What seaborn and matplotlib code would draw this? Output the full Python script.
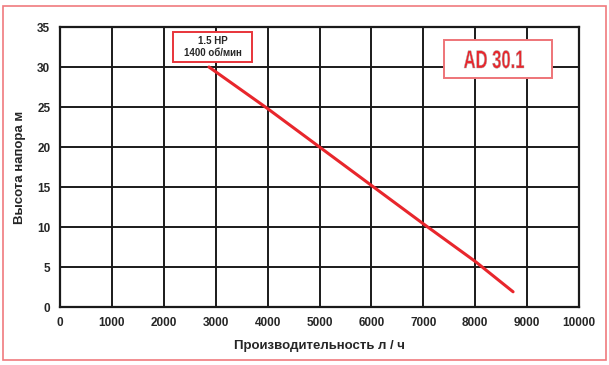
import matplotlib
matplotlib.use('Agg')
import matplotlib.pyplot as plt
import seaborn as sns
import pandas as pd
from matplotlib.patches import Rectangle, PathPatch
from matplotlib.textpath import TextPath
from matplotlib.font_manager import FontProperties
from matplotlib.transforms import Affine2D, IdentityTransform

# curve values
flow = [2870, 4000, 5000, 6000, 7000, 8000, 8730]
head = [30.0, 24.8, 20.0, 15.2, 10.4, 5.7, 1.9]
x_ticks = [0, 1000, 2000, 3000, 4000, 5000, 6000, 7000, 8000, 9000, 10000]
y_ticks = [0, 5, 10, 15, 20, 25, 30, 35]
x_label = 'Производительность л / ч'
y_label = 'Высота напора м'
motor_text = '1.5 HP\n1400 об/мин'
model_text = 'AD 30.1'

sns.set_style('white')
plt.rcParams['font.family'] = ['Liberation Sans', 'DejaVu Sans']

df = pd.DataFrame({'flow': flow, 'head': head})

fig = plt.figure(figsize=(6.09, 3.65), dpi=100)
ax = fig.add_axes([60 / 609, 1 - 307 / 365, 519 / 609, 280 / 365])

sns.lineplot(data=df, x='flow', y='head', ax=ax, color='#e8262c', linewidth=2.2, zorder=5)

ax.set_xlim(0, 10000)
ax.set_ylim(0, 35)
ax.set_xticks(x_ticks)
ax.set_yticks(y_ticks)
ax.set_xticklabels([str(t) for t in x_ticks], fontsize=8.5, fontweight='bold')
ax.set_yticklabels([str(t) for t in y_ticks], fontsize=8.5, fontweight='bold')
ax.grid(True, color='#1a1a1a', linewidth=1.4)
for s in ax.spines.values():
    s.set_color('#1a1a1a')
    s.set_linewidth(1.6)
ax.tick_params(axis='both', length=4, width=1, color='#1a1a1a', pad=3)
ax.set_xlabel(x_label, fontsize=9.5, fontweight='bold', labelpad=8)
ax.set_ylabel(y_label, fontsize=9.5, fontweight='bold', labelpad=8)

# motor annotation box
ax.add_patch(Rectangle((2180, 30.6), 1520, 3.8, facecolor='white', edgecolor='#e8343a',
                       linewidth=1.4, zorder=6))
ax.text(2940, 32.55, motor_text, ha='center', va='center', fontsize=7,
        fontweight='bold', linespacing=1.25, zorder=7)

# model label box
ax.add_patch(Rectangle((7400, 28.6), 2080, 4.8, facecolor='white', edgecolor='#ee7478',
                       linewidth=1.4, zorder=6))

# condensed bold label (no narrow font installed, so squeeze the glyph outlines)
tp = TextPath((0, 0), model_text, size=1,
              prop=FontProperties(family='Liberation Sans', weight='bold'))
ext = tp.get_extents()
cap_px = 18
em_px = cap_px / 0.716
sx, sy = em_px * 0.66, em_px
cx, cy = 494, 365 - 59
tr = (Affine2D().translate(-(ext.x0 + ext.x1) / 2, -0.358)
      .scale(sx, sy).translate(cx, cy))
fig.add_artist(PathPatch(tr.transform_path(tp), transform=IdentityTransform(),
                         facecolor='#e8262c', edgecolor='#b0b0b0', linewidth=0.3, zorder=10))

# outer red frame
fig.add_artist(Rectangle((3 / 609, 5 / 365), 603 / 609, 354 / 365, transform=fig.transFigure,
                         facecolor='none', edgecolor='#f07a7e', linewidth=1.2))

fig.savefig('out.png', dpi=100)
